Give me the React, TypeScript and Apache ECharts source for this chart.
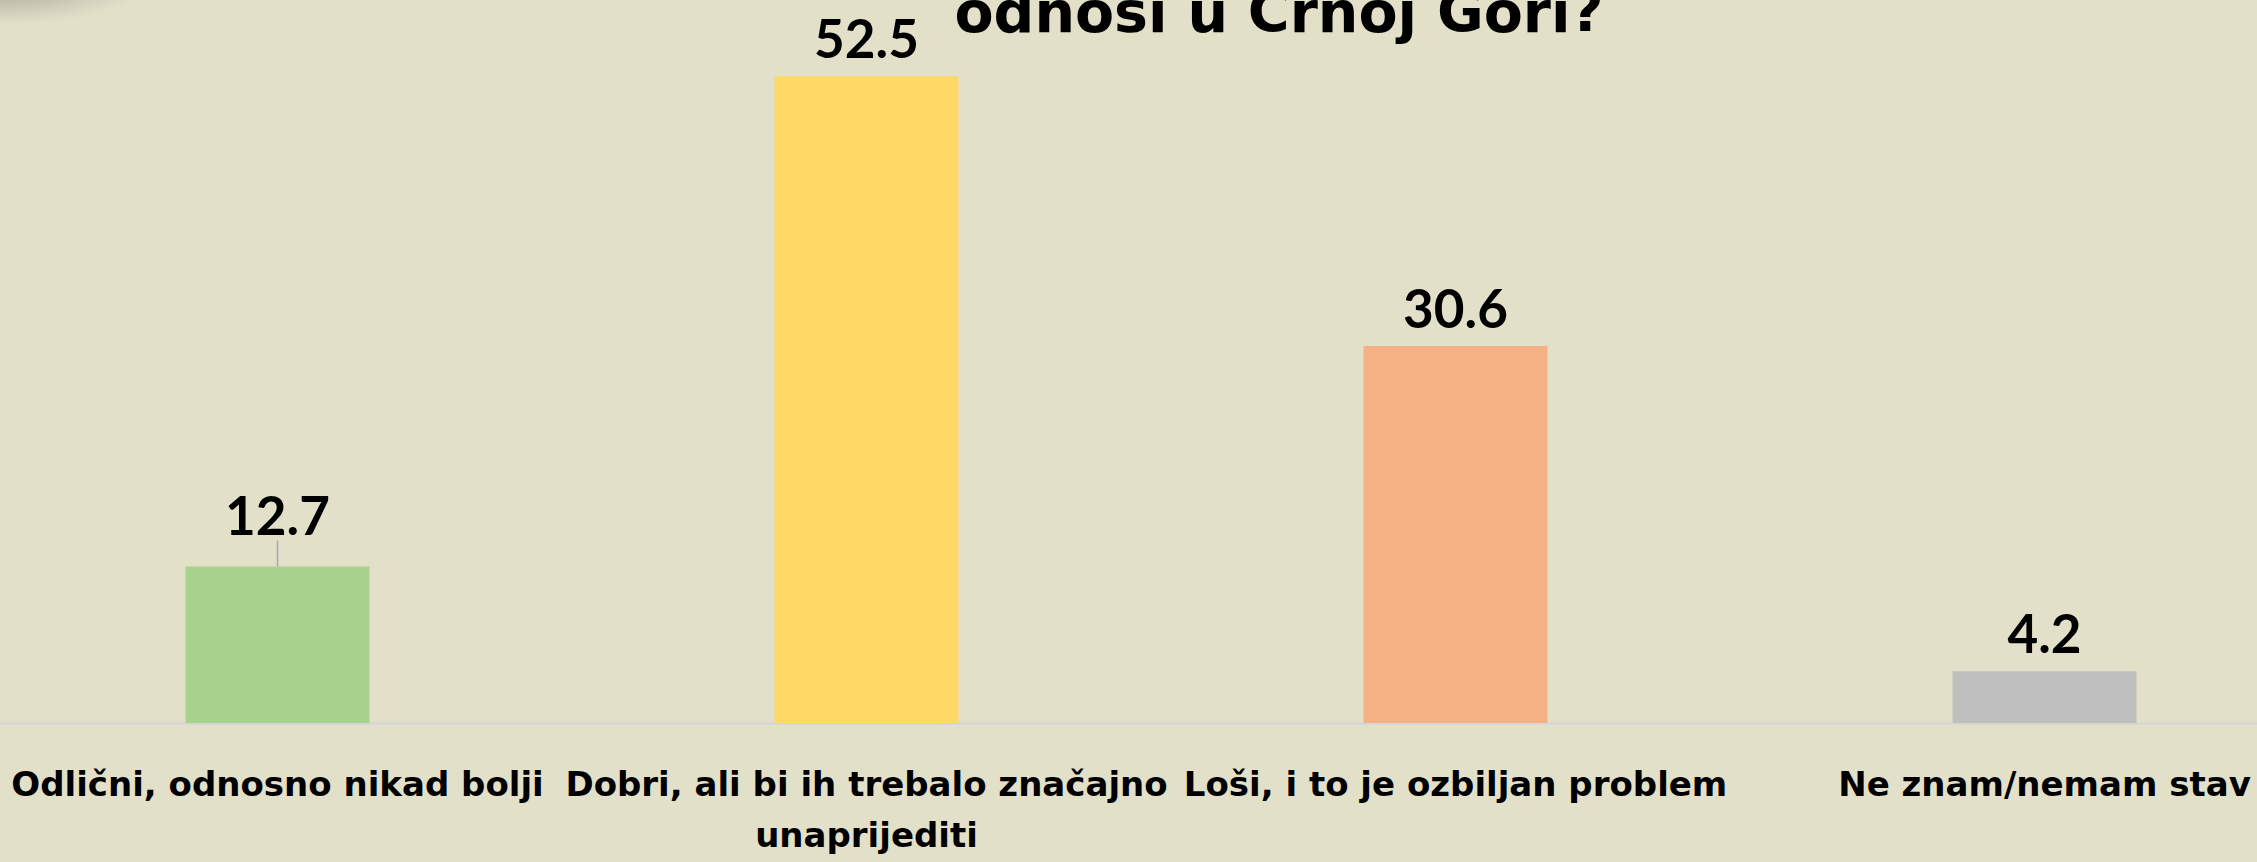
import React, { useEffect, useRef } from "react";
import * as echarts from "echarts";

const categories = [
  "Odlični, odnosno nikad bolji",
  "Dobri, ali bi ih trebalo značajno unaprijediti",
  "Loši, i to je ozbiljan problem",
  "Ne znam/nemam stav",
];
const values = [12.7, 52.5, 30.6, 4.2];
const barColors = ["#a9d18e", "#ffd966", "#f4b183", "#bfbfbf"];
const titleText = "odnosi u Crnoj Gori?";

const NUM_FONT = "Lato, 'Open Sans', sans-serif";
const TXT_FONT = "'DejaVu Sans', 'Open Sans', sans-serif";
const SHIFT = 17;

export default function App() {
  const ref = useRef<HTMLDivElement>(null);
  useEffect(() => {
    if (!ref.current) return;
    const chart = echarts.init(ref.current, undefined, { renderer: "svg" });
    chart.setOption({
      animation: false,
      backgroundColor: "#e3e0ca",
      grid: { left: 0, width: 2356, top: 33, height: 690 },
      xAxis: {
        type: "category",
        data: categories,
        axisLine: { show: true, lineStyle: { color: "#d6d6d2", width: 2.5 } },
        axisTick: { show: false },
        axisLabel: {
          interval: 0,
          margin: 35,
          color: "#000",
          fontFamily: TXT_FONT,
          fontWeight: "bold",
          fontSize: 34,
          lineHeight: 51,
          formatter: (v: string) => v.replace("značajno ", "značajno\n"),
        },
      },
      yAxis: { type: "value", min: 0, max: 56, show: false, splitLine: { show: false } },
      graphic: [
        {
          type: "ellipse",
          shape: { cx: SHIFT, cy: -30, rx: 160, ry: 55 },
          style: {
            fill: {
              type: "radial",
              x: 0.5,
              y: 0.5,
              r: 0.5,
              colorStops: [
                { offset: 0, color: "rgba(90,90,80,0.55)" },
                { offset: 1, color: "rgba(90,90,80,0)" },
              ],
            },
          },
          silent: true,
        },
        {
          type: "text",
          x: 1279 + SHIFT,
          y: 11.6,
          style: {
            text: titleText,
            fill: "#000",
            font: `bold 57px ${TXT_FONT}`,
            align: "center",
            verticalAlign: "middle",
          },
        },
      ],
      series: [
        {
          type: "bar",
          barWidth: 184,
          data: values.map((v, i) => ({
            value: v,
            itemStyle: { color: barColors[i] },
            labelLine: i === 0 ? { show: true, lineStyle: { color: "#a5a5b5", width: 1.5 } } : { show: false },
          })),
          label: {
            show: true,
            position: "top",
            distance: 12,
            color: "#000",
            fontFamily: NUM_FONT,
            fontWeight: "bold",
            fontSize: 53,
          },
          labelLayout: (p: any) => (p.dataIndex === 0 ? { dy: -14 } : {}),
        },
      ],
    });
    return () => chart.dispose();
  }, []);
  return (
    <div style={{ position: "absolute", left: 0, top: 0, width: 2257, height: 862, overflow: "hidden" }}>
      <div ref={ref} style={{ position: "absolute", left: -SHIFT, top: 0, width: 2400, height: 862 }} />
    </div>
  );
}
